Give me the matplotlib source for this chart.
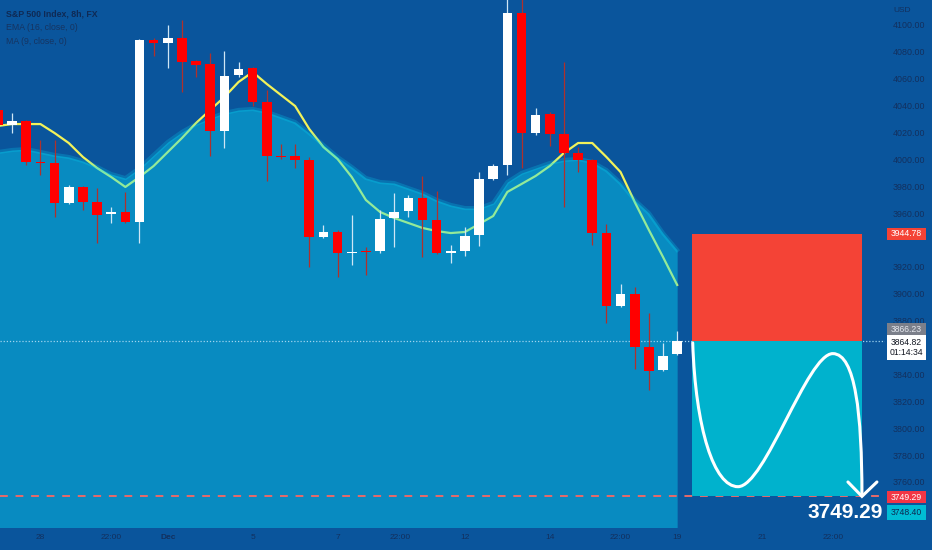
import matplotlib
matplotlib.use("Agg")
import matplotlib.pyplot as plt
import matplotlib.transforms as mtransforms
from matplotlib.path import Path
from matplotlib.patches import PathPatch, Rectangle
import numpy as np

plt.rcParams['font.family'] = ['Liberation Sans', 'DejaVu Sans']

# S&P 500, 8h candles
opens = [4036.8, 4025.6, 4028.6, 3998.1, 3997.5, 3967.6, 3979.5, 3968.3, 3959.4, 3960.9,
         3953.4, 4088.8, 4086.6, 4090.3, 4073.2, 4071.0, 4021.1, 4062.8, 4068.0, 4042.7,
         4002.5, 4002.5, 3999.6, 3942.3, 3946.0, 3930.4, 3931.8, 3931.8, 3956.4, 3961.6,
         3971.3, 3954.9, 3930.4, 3931.8, 3943.8, 3985.4, 3995.8, 4108.9, 4019.6, 4033.8,
         4018.9, 4004.8, 3999.6, 3945.2, 3890.9, 3899.9, 3860.4, 3843.3, 3855.2]
highs = [4040.5, 4034.5, 4029.5, 4014.4, 4014.4, 3981.0, 3980.2, 3978.7, 3964.6, 3975.8,
         4089.5, 4090.3, 4100.0, 4103.7, 4073.9, 4079.2, 4080.7, 4072.5, 4069.0, 4051.6,
         4011.5, 4011.5, 4001.8, 3951.2, 3947.5, 3958.6, 3934.8, 3962.4, 3975.0, 3973.5,
         3987.7, 3976.5, 3936.3, 3949.7, 3990.6, 3996.6, 4125.0, 4125.0, 4038.2, 4035.3,
         4072.5, 4009.2, 4000.3, 3951.9, 3907.3, 3905.1, 3885.7, 3863.4, 3872.3]
lows = [4022.0, 4019.6, 3995.8, 3988.4, 3957.2, 3966.8, 3962.4, 3937.8, 3952.7, 3953.0,
        3937.8, 4076.9, 4068.0, 4050.2, 4061.3, 4002.5, 4008.5, 4061.3, 4040.0, 3983.9,
        4000.3, 3993.6, 3920.0, 3941.5, 3912.5, 3921.4, 3914.0, 3930.4, 3934.8, 3957.2,
        3927.4, 3929.6, 3922.9, 3928.1, 3935.6, 3984.7, 3988.4, 3993.6, 4018.2, 4010.0,
        3964.6, 3990.6, 3936.3, 3878.3, 3890.2, 3844.0, 3828.4, 3842.6, 3854.5]
closes = [4025.6, 4028.6, 3998.1, 3997.5, 3967.6, 3979.5, 3968.3, 3958.6, 3960.9, 3953.4,
          4088.8, 4086.6, 4090.3, 4072.5, 4070.2, 4021.1, 4062.1, 4067.3, 4042.7, 4002.5,
          4002.0, 3999.6, 3942.3, 3946.0, 3930.4, 3931.1, 3931.1, 3955.7, 3960.9, 3971.3,
          3954.9, 3930.4, 3931.8, 3943.0, 3985.4, 3995.1, 4108.9, 4019.6, 4033.0, 4018.9,
          4004.8, 3999.6, 3945.2, 3890.9, 3899.9, 3860.4, 3842.6, 3853.7, 3864.8]

# yellow line and the filled area (indicator values as drawn)
ma_line = [4024.9, 4026.3, 4026.3, 4026.3, 4019.6, 4012.2, 4001.8, 3993.6, 3986.9, 3979.5,
           3986.9, 3995.1, 4005.5, 4015.9, 4027.1, 4036.8, 4046.4, 4057.6, 4065.0, 4056.1,
           4047.9, 4039.7, 4022.6, 4009.2, 4000.3, 3986.9, 3969.8, 3960.9, 3956.4, 3952.7,
           3949.0, 3946.7, 3945.2, 3946.0, 3951.9, 3957.9, 3975.8, 3981.7, 3987.7, 3995.1,
           4004.8, 4012.2, 4012.2, 4001.8, 3990.6, 3968.3, 3947.5, 3927.4, 3906.6]
ema_area = [4005.5, 4007.0, 4007.7, 4005.5, 4003.3, 4001.8, 3998.8, 3994.4, 3989.1, 3986.1,
            3993.6, 4003.3, 4013.0, 4020.4, 4026.3, 4030.8, 4034.5, 4036.8, 4037.5, 4035.3,
            4031.6, 4027.8, 4019.6, 4010.7, 4001.8, 3994.4, 3986.2, 3983.2, 3982.4, 3978.7,
            3975.0, 3969.8, 3966.1, 3963.8, 3963.8, 3967.6, 3983.2, 3989.9, 3993.6, 3997.3,
            3999.6, 4000.3, 3998.1, 3992.1, 3982.4, 3969.8, 3960.1, 3945.2, 3932.6]

x_labels = ['28', '22:00', 'Dec', '5', '7', '22:00', '12', '14', '22:00', '19', '21', '22:00']
x_label_pos = [3, 8, 12, 18, 24, 28.4, 33, 39, 44, 48, 54, 59]
# 3940 and 3860 sit under the price tags in the original
price_ticks = [p for p in range(3760, 4101, 20) if p not in (3940, 3860)]

last_price = 3864.82
bid_price = 3866.23
stop_price = 3944.78
target_price = 3749.29
low_price = 3748.40
countdown = '01:14:34'

# projection drawing (bar index / price)
box_x = [49.05, 61.06]
curve_x = [49.1, 49.3, 50.6, 52.3, 54.2, 57.2, 59.0, 60.6, 61.06, 61.06]
curve_y = [3863.5, 3800, 3756.5, 3756.5, 3756.5, 3855.5, 3855.5, 3855.5, 3810, 3750]
arrow_x = [60.07, 61.06, 62.12]
arrow_y = [3760.0, 3749.3, 3760.0]

BG = '#0a559c'
AREA = '#05defa'
TXT = '#13305e'

fig = plt.figure(figsize=(9.32, 5.5), dpi=100)
fig.patch.set_facecolor(BG)
ax = fig.add_axes([0, 23 / 550, 885 / 932, 527 / 550])
ax.set_facecolor(BG)
for s in ax.spines.values():
    s.set_visible(False)

idx = np.arange(len(opens))

ax.plot(idx, ma_line, color='#f2f25a', lw=1.6, zorder=2)
ax.fill_between(idx, ema_area, 3700, color=AREA, alpha=0.4, lw=0, zorder=3)
ax.plot(idx, ema_area, color=AREA, alpha=0.22, lw=3, zorder=3)

o = np.array(opens)
c = np.array(closes)
up = c >= o
body_lo = np.minimum(o, c)
body_h = np.maximum(np.abs(c - o), 0.8)
body_cols = ['white' if u else '#ff0000' for u in up]
wick_cols = ['#cfe6f5' if u else '#b0302c' for u in up]
ax.vlines(idx, lows, highs, colors=wick_cols, lw=0.9, zorder=5)
ax.bar(idx, body_h, 0.68, bottom=body_lo, color=body_cols, lw=0, zorder=5)

ax.axhline(last_price, color='#9fd3ef', lw=0.9, ls=(0, (1, 1.5)), zorder=4)
ax.axhline(target_price, color='#e86a6a', lw=1.4, ls=(0, (4, 4)), zorder=4)

ax.add_patch(Rectangle((box_x[0], last_price), box_x[1] - box_x[0], stop_price - last_price,
                       facecolor='#f44336', lw=0, zorder=6))
ax.add_patch(Rectangle((box_x[0], target_price), box_x[1] - box_x[0], last_price - target_price,
                       facecolor='#00b2cd', lw=0, zorder=6))

codes = [Path.MOVETO] + [Path.CURVE4] * 9
ax.add_patch(PathPatch(Path(list(zip(curve_x, curve_y)), codes), facecolor='none',
                       edgecolor='white', lw=2.2, capstyle='round', zorder=7))
ax.plot(arrow_x, arrow_y, color='white', lw=2.2, solid_capstyle='round',
        solid_joinstyle='miter', zorder=7)
ax.text(59.86, 3737, f'{target_price:.2f}', ha='center', va='center', color='white',
        fontsize=15, weight='bold', zorder=8)

ax.set_xlim(0.141, 62.69)
ax.set_ylim(3726.5, 4118.6)

ax.set_xticks(x_label_pos, x_labels)
ax.tick_params(axis='x', length=0, pad=5, labelsize=6, labelcolor=TXT)
ax.get_xticklabels()[2].set_fontweight('bold')
ax.yaxis.tick_right()
ax.set_yticks(price_ticks, [f'{p:.2f}' for p in price_ticks])
ax.tick_params(axis='y', length=0, pad=5.5, labelsize=6.4, labelcolor=TXT)

# price scale tags, placed in pixels next to their price
px = mtransforms.IdentityTransform()
def price_tag(price, text, fc, tc, dy=0, h=12):
    yc = ax.transData.transform((0, price))[1] + dy
    fig.add_artist(Rectangle((887, yc - h / 2), 39, h, transform=px,
                             facecolor=fc, lw=0, zorder=9))
    fig.text(906.5, yc, text, transform=px, ha='center', va='center', fontsize=6.2,
             color=tc, linespacing=1.25, zorder=10)

price_tag(stop_price, f'{stop_price:.2f}', '#f44336', 'white')
price_tag(bid_price, f'{bid_price:.2f}', '#7b7f8a', '#e6e8ee', dy=10, h=12)
price_tag(last_price, f'{last_price:.2f}\n{countdown}', 'white', '#131722', dy=-6.3, h=25)
price_tag(target_price, f'{target_price:.2f}', '#f23645', 'white', dy=-1)
price_tag(low_price, f'{low_price:.2f}', '#00bcd4', '#0d2850', dy=-15, h=15)

fig.text(893 / 932, 1 - 11 / 550, 'USD', fontsize=6, color=TXT, va='center')
fig.text(6 / 932, 1 - 14 / 550, 'S&P 500 Index, 8h, FX', fontsize=6.3, color='#0f2a55',
         va='center', weight='bold')
fig.text(6 / 932, 1 - 28 / 550, 'EMA (16, close, 0)', fontsize=6.3, color='#163461', va='center')
fig.text(6 / 932, 1 - 42 / 550, 'MA (9, close, 0)', fontsize=6.3, color='#163461', va='center')

fig.savefig('out.png', dpi=100, facecolor=BG)
